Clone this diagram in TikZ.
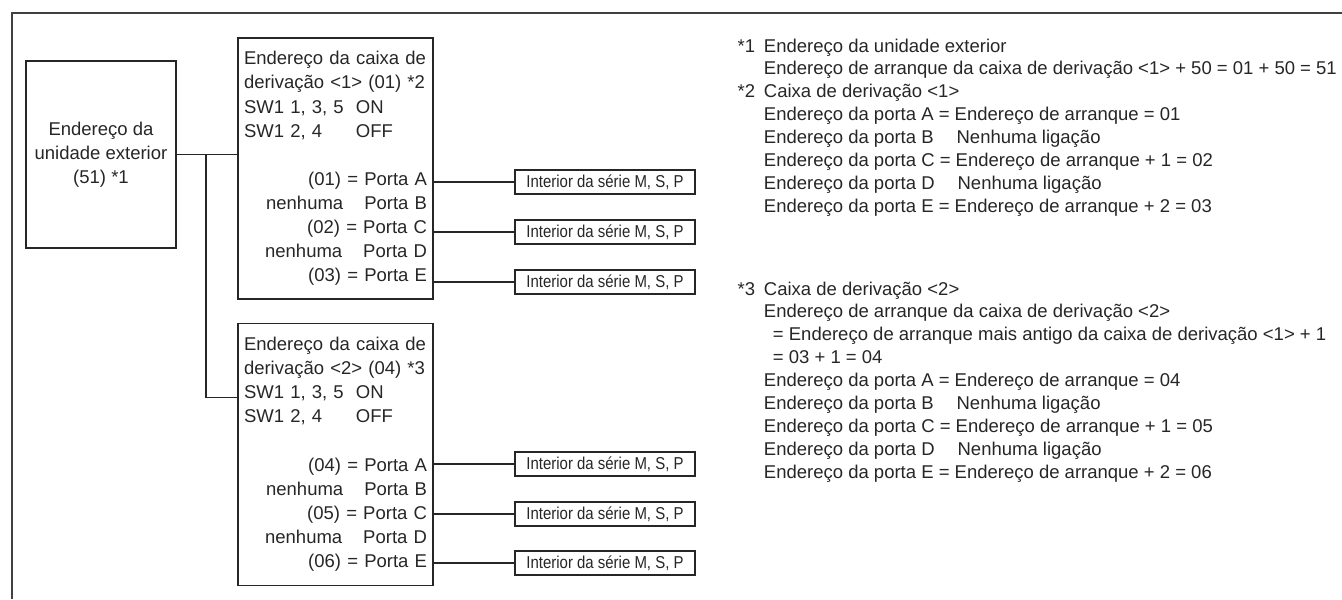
\documentclass[tikz,border=0pt]{standalone}
\usepackage{fontspec}
\setmainfont{Liberation Sans}
\newfontfamily\estreita{Liberation Sans}[FakeStretch=0.87]
\usepackage{xcolor}
\usepackage{tikz}
\usetikzlibrary{positioning}
\newcommand{\rotulo}[1]{\makebox[13.15pt][l]{#1}}
\newcommand{\recuo}{\hspace*{13.15pt}}

\begin{document}
\begin{tikzpicture}[
    x=0.5pt, y=-0.5pt,
    line width=0.65pt,
    color=black!85,
    caixa/.style={rectangle, draw, text width=91.5pt, inner xsep=3pt, inner ysep=0pt, align=left, font=\fontsize{9.25}{12.05}\selectfont},
    interior/.style={rectangle, draw, line width=0.6pt, minimum width=90pt, minimum height=12pt, inner sep=0pt, font=\estreita\fontsize{8.6}{9}\selectfont},
    nota/.style={anchor=north west, inner sep=0pt, align=left, font=\fontsize{9.25}{11.45}\selectfont}
]
    \useasboundingbox (0,0) rectangle (1342,599);
    % Moldura
    \draw[black!75, line width=0.75pt] (1342,13) -- (12,13) -- (12,599);
    % Unidade exterior
    \node[rectangle, draw, minimum width=75pt, minimum height=93.5pt, align=center, font=\fontsize{9.25}{12}\selectfont] (ext) at (101,154.5) {Endereço da\\unidade exterior\\(51) *1};
    % Caixas de derivacao
    \node[caixa, minimum height=130.5pt] (cx1) at (335.5,168.5) {Endereço da caixa de\\derivação <1> (01) *2\\\makebox[56pt][l]{SW1 1, 3, 5}ON\\\makebox[56pt][l]{SW1 2, 4}OFF\\\mbox{}\\\hfill(01) = Porta A\\\hfill nenhuma\hspace{10.5pt}Porta B\\\hfill(02) = Porta C\\\hfill nenhuma\hspace{10.5pt}Porta D\\\hfill(03) = Porta E};
    \node[caixa, minimum height=131pt, below=11.5pt of cx1] (cx2) {Endereço da caixa de\\derivação <2> (04) *3\\\makebox[56pt][l]{SW1 1, 3, 5}ON\\\makebox[56pt][l]{SW1 2, 4}OFF\\\mbox{}\\\hfill(04) = Porta A\\\hfill nenhuma\hspace{10.5pt}Porta B\\\hfill(05) = Porta C\\\hfill nenhuma\hspace{10.5pt}Porta D\\\hfill(06) = Porta E};
    % Unidades interiores
    \node[interior] (in1a) at (605,182) {Interior da série M, S, P};
    \node[interior] (in1c) at (605,232) {Interior da série M, S, P};
    \node[interior] (in1e) at (605,282) {Interior da série M, S, P};
    \node[interior] (in2a) at (605,464) {Interior da série M, S, P};
    \node[interior] (in2c) at (605,514) {Interior da série M, S, P};
    \node[interior] (in2e) at (605,563) {Interior da série M, S, P};
    % Ligacoes
    \coordinate (ramo) at (206,154.5);
    \draw (ext.east) -- (ext.east -| cx1.west);
    \draw (ramo) |- ([yshift=-37.5pt]cx2.north west);
    \draw (in1a.west) -- (in1a.west -| cx1.east);
    \draw (in1c.west) -- (in1c.west -| cx1.east);
    \draw (in1e.west) -- (in1e.west -| cx1.east);
    \draw (in2a.west) -- (in2a.west -| cx2.east);
    \draw (in2c.west) -- (in2c.west -| cx2.east);
    \draw (in2e.west) -- (in2e.west -| cx2.east);
    % Notas
    \node[nota] (nota1) at (737,38) {\rotulo{*1}Endereço da unidade exterior\\
        \recuo Endereço de arranque da caixa de derivação <1> + 50 = 01 + 50 = 51\\
        \rotulo{*2}Caixa de derivação <1>\\
        \recuo Endereço da porta A = Endereço de arranque = 01\\
        \recuo Endereço da porta B\hspace{11.5pt}Nenhuma ligação\\
        \recuo Endereço da porta C = Endereço de arranque + 1 = 02\\
        \recuo Endereço da porta D\hspace{11.5pt}Nenhuma ligação\\
        \recuo Endereço da porta E = Endereço de arranque + 2 = 03};
    \node[nota] (nota3) at (737,281) {\rotulo{*3}Caixa de derivação <2>\\
        \recuo Endereço de arranque da caixa de derivação <2>\\
        \recuo\hspace*{4.5pt}= Endereço de arranque mais antigo da caixa de derivação <1> + 1\\
        \recuo\hspace*{4.5pt}= 03 + 1 = 04\\
        \recuo Endereço da porta A = Endereço de arranque = 04\\
        \recuo Endereço da porta B\hspace{11.5pt}Nenhuma ligação\\
        \recuo Endereço da porta C = Endereço de arranque + 1 = 05\\
        \recuo Endereço da porta D\hspace{11.5pt}Nenhuma ligação\\
        \recuo Endereço da porta E = Endereço de arranque + 2 = 06};
\end{tikzpicture}
\end{document}
